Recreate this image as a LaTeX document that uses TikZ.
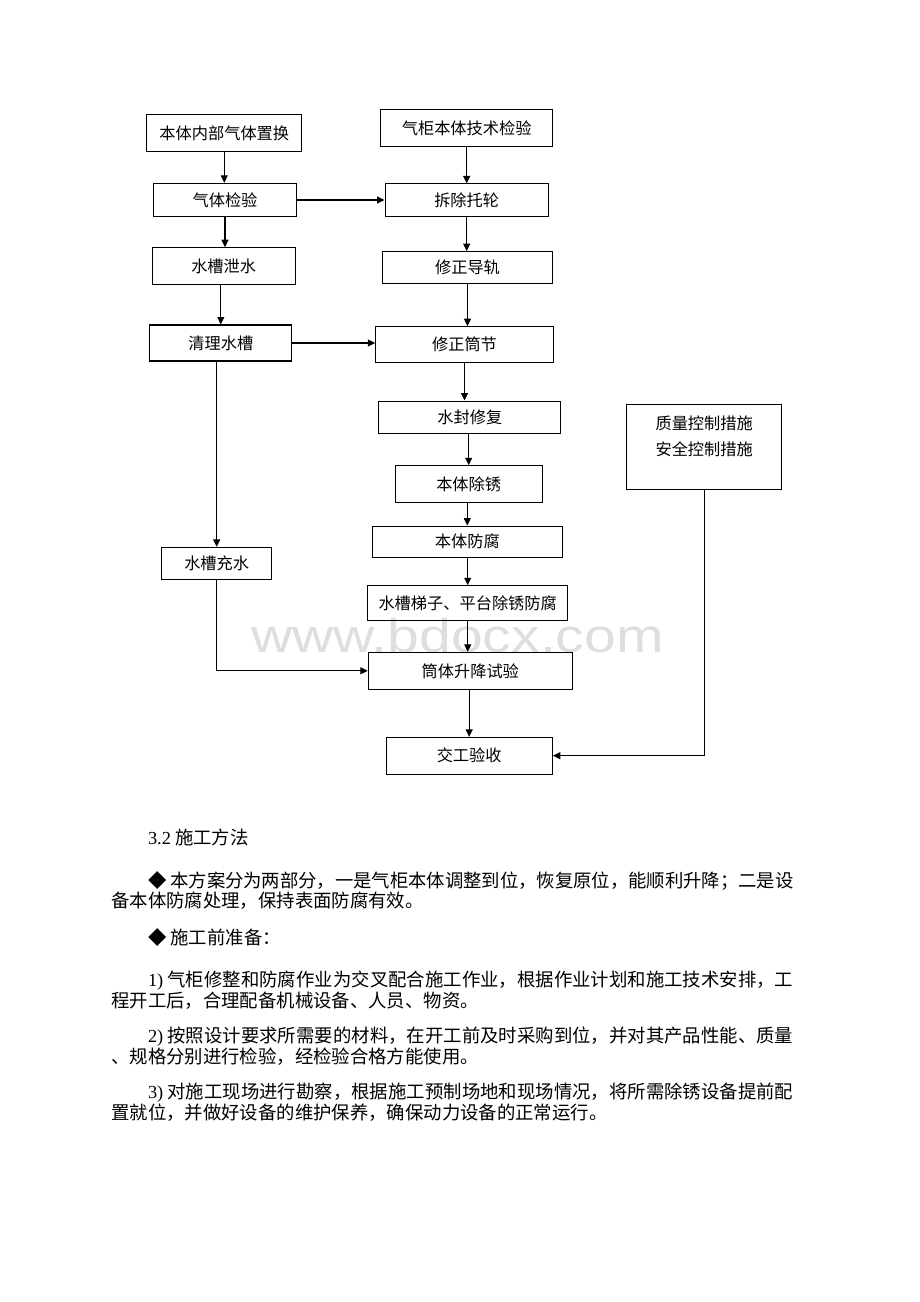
\documentclass[tikz,border=0pt]{standalone}
\usepackage{fontspec}
\setmainfont{Liberation Serif}
\newfontfamily\cjk{Noto Sans CJK SC}
\newfontfamily\wmfont{Liberation Sans}
\usetikzlibrary{arrows.meta}
\XeTeXlinebreaklocale "zh"
\XeTeXlinebreakskip=0pt plus 1pt minus 0.3pt
\newdimen\pxu \pxu=0.6476pt

\begin{document}
\begin{tikzpicture}[x=0.6476pt,y=-0.6476pt]
  \tikzstyle{proc}=[rectangle,draw=black,line width=0.7pt,inner sep=0pt,font=\cjk\fontsize{10.5}{17}\selectfont]
  \tikzstyle{flow}=[draw,line width=0.7pt,-{Triangle[length=4.8pt,width=4.5pt]}]
  \tikzstyle{para}=[inner sep=0pt,anchor=north west,text width=441.7pt,align=justify,font=\cjk\fontsize{11.9}{12.5}\selectfont]
  \useasboundingbox (0,0) rectangle (920,1302);

  \node[text=black!13,font=\wmfont\fontsize{37}{37}\selectfont,anchor=base,inner sep=0pt] (wm) at (457.5,652) {\scalebox{1}[0.83]{www.bdocx.com}};

  \node[proc,minimum width=155.3\pxu,minimum height=36.7\pxu] (replace) at (224.3,133.3) {本体内部气体置换};
  \node[proc,minimum width=172\pxu,minimum height=37\pxu] (inspect) at (466.7,127.8) {气柜本体技术检验};
  \node[proc,minimum width=143.4\pxu,minimum height=33.4\pxu] (gastest) at (225,200) {气体检验};
  \node[proc,minimum width=163.3\pxu,minimum height=32.7\pxu] (rollers) at (466.7,200.3) {拆除托轮};
  \node[proc,minimum width=142.7\pxu,minimum height=36.6\pxu] (drain) at (223.7,266) {水槽泄水};
  \node[proc,minimum width=170.4\pxu,minimum height=31.6\pxu] (rails) at (467.5,267.5) {修正导轨};
  \node[proc,minimum width=141.7\pxu,minimum height=36\pxu] (clean) at (220.8,343) {清理水槽};
  \node[proc,minimum width=177.6\pxu,minimum height=36\pxu] (shell) at (464.5,344.7) {修正筒节};
  \node[proc,minimum width=181.7\pxu,minimum height=32.3\pxu] (seal) at (469.8,417.2) {水封修复};
  \node[proc,minimum width=147.3\pxu,minimum height=36.6\pxu] (derust) at (468.7,484) {本体除锈};
  \node[proc,minimum width=190\pxu,minimum height=31.3\pxu] (anticorr) at (467.3,541.7) {本体防腐};
  \node[proc,minimum width=200\pxu,minimum height=35\pxu] (ladder) at (467.7,603.2) {水槽梯子、平台除锈防腐};
  \node[proc,minimum width=110\pxu,minimum height=31.7\pxu] (refill) at (216.7,563.2) {水槽充水};
  \node[proc,minimum width=204\pxu,minimum height=37\pxu] (lifttest) at (470.3,670.8) {筒体升降试验};
  \node[proc,minimum width=166.3\pxu,minimum height=36.7\pxu] (accept) at (469.2,755.7) {交工验收};
  \node[proc,minimum width=155\pxu,minimum height=84.7\pxu] (control) at (704.2,446.7) {};
  \node[proc,draw=none,align=center] (controltxt) at (704.2,436) {质量控制措施\\安全控制措施};

  \path (replace.south) edge[flow] (replace.south |- gastest.north);
  \path (inspect.south) edge[flow] (inspect.south |- rollers.north);
  \path (gastest.east) edge[flow] (gastest.east -| rollers.west);
  \path (gastest.south) edge[flow] (gastest.south |- drain.north);
  \path (rollers.south) edge[flow] (rollers.south |- rails.north);
  \path (clean.north |- drain.south) edge[flow] (clean.north);
  \path (rails.south) edge[flow] (rails.south |- shell.north);
  \path (clean.east) edge[flow] (clean.east -| shell.west);
  \path (shell.south) edge[flow] (shell.south |- seal.north);
  \path (derust.north |- seal.south) edge[flow] (derust.north);
  \path (anticorr.north |- derust.south) edge[flow] (anticorr.north);
  \path (ladder.north |- anticorr.south) edge[flow] (ladder.north);
  \path (refill.north |- clean.south) edge[flow] (refill.north);
  \path (ladder.south) edge[flow] (ladder.south |- lifttest.north);
  \path (accept.north |- lifttest.south) edge[flow] (accept.north);
  \draw[flow] (refill.south) |- (lifttest.west);
  \draw[flow] (control.south) |- (accept.east);

  \node[font=\cjk\fontsize{11.9}{12.5}\selectfont,inner sep=0pt,anchor=west] (sec) at (147.7,837) {{\rmfamily 3.2} 施工方法};
  \node[para] (p1) at (111,871.7) {\hspace*{2em}◆ 本方案分为两部分，一是气柜本体调整到位，恢复原位，能顺利升降；二是设\linebreak 备本体防腐处理，保持表面防腐有效。};
  \node[para] (p2) at (111,928.7) {\hspace*{2em}◆ 施工前准备：};
  \node[para] (p3) at (111,970.7) {\hspace*{2em}{\rmfamily 1)} 气柜修整和防腐作业为交叉配合施工作业，根据作业计划和施工技术安排，工\linebreak 程开工后，合理配备机械设备、人员、物资。};
  \node[para] (p4) at (111,1026.7) {\hspace*{2em}{\rmfamily 2)} 按照设计要求所需要的材料，在开工前及时采购到位，并对其产品性能、质量\linebreak 、规格分别进行检验，经检验合格方能使用。};
  \node[para] (p5) at (111,1082.7) {\hspace*{2em}{\rmfamily 3)} 对施工现场进行勘察，根据施工预制场地和现场情况，将所需除锈设备提前配\linebreak 置就位，并做好设备的维护保养，确保动力设备的正常运行。};
\end{tikzpicture}
\end{document}
